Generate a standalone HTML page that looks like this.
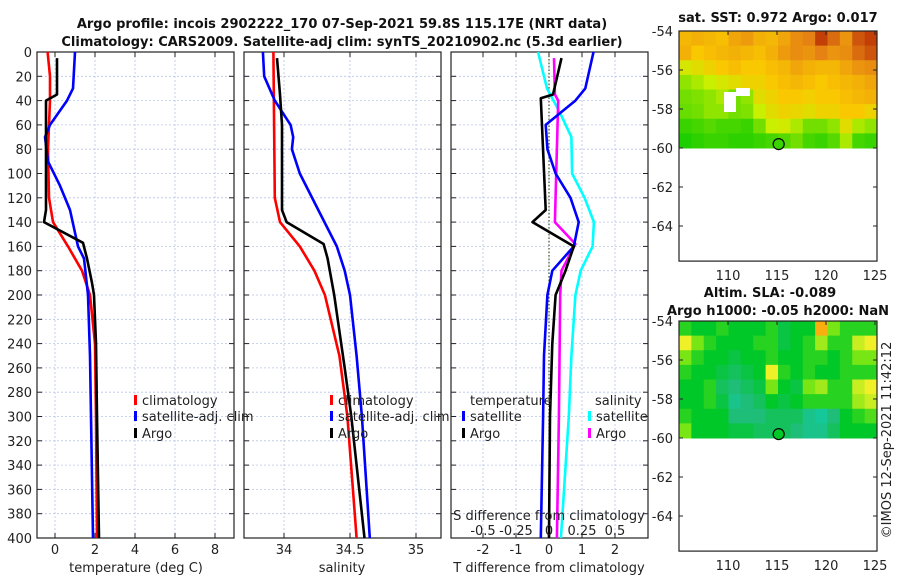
<!DOCTYPE html>
<html><head><meta charset="utf-8"><style>
body{margin:0;background:#fff;width:900px;height:580px;overflow:hidden}
svg{font-family:"DejaVu Sans","Liberation Sans",sans-serif}
.t{font-size:13px;fill:#222}
.b{font-weight:bold;font-size:13px;fill:#111}
</style></head><body>
<svg id="s" width="900" height="580" xmlns="http://www.w3.org/2000/svg"></svg>
<script>
// ---- data ----
const depthTicks=[0,20,40,60,80,100,120,140,160,180,200,220,240,260,280,300,320,340,360,380,400];
const tempTicks=[0,2,4,6,8];
const salTicks=[34,34.5,35];
const tdiffTicks=[-2,-1,0,1,2];
const sdiffTickLabels=["-0.5","-0.25","0","0.25","0.5"];
const argoTDepth=[5,35,40,130,140,157,170,190,200,240,300,400];
const argoT=[0.1,0.1,-0.45,-0.45,-0.55,1.4,1.6,1.85,1.95,2.05,2.1,2.2];
const climTDepth=[0,20,40,80,120,140,160,180,200,240,300,400];
const climT=[-0.37,-0.25,-0.25,-0.35,-0.3,-0.1,0.65,1.35,1.75,2.0,2.05,2.1];
const satTDepth=[0,30,40,60,70,90,110,130,160,170,200,250,300,400];
const satT=[1.0,0.9,0.6,-0.25,-0.5,-0.35,0.25,0.75,1.15,1.45,1.65,1.75,1.8,1.9];
const argoSDepth=[5,35,60,130,140,158,170,200,260,300,400];
const argoS=[33.947,33.97,33.985,33.985,34.02,34.3,34.33,34.38,34.46,34.51,34.61];
const climSDepth=[0,120,140,160,180,200,250,300,400];
const climS=[33.92,33.93,33.97,34.12,34.23,34.31,34.42,34.48,34.55];
const satSDepth=[0,20,40,60,70,80,100,130,160,180,200,250,300,400];
const satS=[33.84,33.85,33.93,34.05,34.07,34.06,34.12,34.26,34.4,34.46,34.5,34.55,34.59,34.65];
const dTArgoDepth=[5,35,38,130,140,160,180,200,240,300,400];
const dTArgo=[0.38,0.12,-0.25,-0.1,-0.5,0.75,0.5,0.2,0.1,0.03,0.0];
const dTSatDepth=[0,30,40,50,60,80,100,120,140,160,180,200,250,300,400];
const dTSat=[1.35,1.1,0.8,0.35,-0.1,-0.05,0.2,0.65,0.9,0.75,0.1,-0.05,-0.15,-0.18,-0.25];
const dSSatDepth=[0,30,50,70,100,120,140,160,180,200,250,300,400];
const dSSat=[-0.083,-0.015,0.083,0.17,0.175,0.27,0.34,0.33,0.24,0.2,0.17,0.15,0.09];
const dSArgoDepth=[5,35,40,140,158,180,200,300,400];
const dSArgo=[0.038,0.045,0.07,0.045,0.2,0.095,0.085,0.075,0.06];
const latTicks=[-54,-56,-58,-60,-62,-64];
const lonTicks=[110,115,120,125];
const sstGrid=[
[.6,.62,.6,.58,.65,.68,.62,.6,.65,.72,.75,.9,.8,.7,.85,.9],
[.62,.55,.58,.6,.62,.6,.58,.62,.68,.72,.7,.75,.7,.72,.8,.85],
[.4,.45,.5,.55,.58,.55,.55,.58,.6,.65,.62,.6,.6,.65,.7,.72],
[.25,.3,.35,.4,.45,.5,.5,.55,.58,.6,.58,.55,.58,.6,.62,.65],
[.2,.22,.25,.3,.2,.25,.45,.5,.55,.55,.52,.55,.55,.58,.6,.62],
[.18,.2,.25,.25,.2,.22,.35,.45,.5,.48,.45,.5,.5,.55,.55,.5],
[.1,.12,.15,.12,.12,.1,.2,.35,.38,.3,.2,.2,.25,.45,.3,.25],
[.05,.08,.1,.1,.08,.08,.1,.12,.15,.2,.12,.1,.15,.3,.12,.1]];
const slaGrid=[
[.5,.45,.45,.5,.45,.45,.45,.5,.4,.45,.45,.9,.6,.5,.5,.5],
[.75,.6,.5,.45,.45,.45,.5,.5,.4,.45,.5,.65,.5,.5,.7,.75],
[.6,.5,.45,.45,.4,.45,.45,.5,.45,.45,.5,.5,.45,.5,.6,.6],
[.5,.45,.45,.4,.35,.4,.45,.75,.5,.45,.5,.45,.45,.5,.5,.5],
[.45,.45,.5,.35,.3,.35,.4,.6,.45,.4,.6,.65,.5,.5,.7,.75],
[.45,.45,.5,.4,.25,.3,.35,.45,.4,.45,.5,.5,.5,.5,.65,.7],
[.5,.45,.45,.45,.3,.3,.3,.35,.35,.35,.25,.2,.3,.45,.5,.55],
[.6,.45,.45,.45,.4,.4,.35,.35,.35,.3,.25,.25,.35,.45,.45,.45]];

const S=document.getElementById('s');const NS='http://www.w3.org/2000/svg';
function el(tag,a,txt){const e=document.createElementNS(NS,tag);for(const k in a)e.setAttribute(k,a[k]);if(txt!==undefined)e.textContent=txt;S.appendChild(e);return e;}
const Y0=52,Y1=538;const yD=d=>Y0+(d/400)*(Y1-Y0);
const P=[{x0:37,x1:234,f:v=>55+v*20},{x0:244,x1:441,f:v=>284+(v-34)*132},{x0:451,x1:648,f:v=>549+v*33}];
const fS=v=>549+v*132;
P.forEach((p,i)=>{
 const r=el('rect',{x:p.x0,y:Y0,width:p.x1-p.x0,height:Y1-Y0,fill:'none',stroke:'#222','stroke-width':1.2});
 
 depthTicks.forEach(d=>{if(d>0&&d<400){const l=el('line',{x1:p.x0,x2:p.x1,y1:yD(d),y2:yD(d),stroke:'#b8c4e8','stroke-dasharray':'2,2','stroke-width':0.8});
  }
  el('line',{x1:p.x0,x2:p.x0+5,y1:yD(d),y2:yD(d),stroke:'#222'});el('line',{x1:p.x1-5,x2:p.x1,y1:yD(d),y2:yD(d),stroke:'#222'});});
});
depthTicks.forEach(d=>{const t=el('text',{x:32,y:yD(d)+5,'text-anchor':'end',class:'t'},d);
 });
function vt(p,ticks,labelsY,labels){ticks.forEach((v,i)=>{const x=p.f(v);
 const l=el('line',{x1:x,x2:x,y1:Y0,y2:Y1,stroke:'#b8c4e8','stroke-dasharray':'2,2','stroke-width':0.8});
 
 el('line',{x1:x,x2:x,y1:Y1-5,y2:Y1,stroke:'#222'});el('line',{x1:x,x2:x,y1:Y0,y2:Y0+5,stroke:'#222'});
 const t=el('text',{x:x,y:labelsY,'text-anchor':'middle',class:'t'},labels?labels[i]:v);
 });}
vt(P[0],tempTicks,554);vt(P[1],salTicks,554);vt(P[2],tdiffTicks,554);
const z=el('line',{x1:549,x2:549,y1:Y0,y2:Y1,stroke:'#445522','stroke-dasharray':'1.5,2','stroke-width':1.2});

function line(dep,val,f,col,name){const pts=dep.map((d,i)=>f(val[i]).toFixed(1)+','+yD(d).toFixed(1)).join(' ');
 const e=el('polyline',{points:pts,fill:'none',stroke:col,'stroke-width':2.6,'stroke-linejoin':'round'});
 }
line(climTDepth,climT,P[0].f,'#ff0000','temp-climatology-line');
line(satTDepth,satT,P[0].f,'#0000ff','temp-satellite-line');
line(argoTDepth,argoT,P[0].f,'#000','temp-argo-line');
line(climSDepth,climS,P[1].f,'#ff0000','sal-climatology-line');
line(satSDepth,satS,P[1].f,'#0000ff','sal-satellite-line');
line(argoSDepth,argoS,P[1].f,'#000','sal-argo-line');
line(dSSatDepth,dSSat,fS,'#00ffff','sdiff-satellite-line');
line(dSArgoDepth,dSArgo,fS,'#ff00ff','sdiff-argo-line');
line(dTSatDepth,dTSat,P[2].f,'#0000ff','tdiff-satellite-line');
line(dTArgoDepth,dTArgo,P[2].f,'#000','tdiff-argo-line');
function leg(x,y,col,txt,name){el('rect',{x:x,y:y-10,width:3,height:10,fill:col});
 const t=el('text',{x:x+8,y:y,class:'t'},txt);}
leg(134,405,'#ff0000','climatology','legend-climatology');leg(134,421,'#0000ff','satellite-adj. clim','legend-satellite');leg(134,438,'#000','Argo','legend-argo');
leg(330,405,'#ff0000','climatology','legend-climatology-2');leg(330,421,'#0000ff','satellite-adj. clim','legend-satellite-2');leg(330,438,'#000','Argo','legend-argo-2');
el('text',{x:470,y:405,class:'t'},'temperature');el('text',{x:595,y:405,class:'t'},'salinity');
leg(462,421,'#0000ff','satellite','legend-t-satellite');leg(462,438,'#000','Argo','legend-t-argo');
leg(588,421,'#00ffff','satellite','legend-s-satellite');leg(588,438,'#ff00ff','Argo','legend-s-argo');
el('text',{x:549,y:520,'text-anchor':'middle',class:'t'},'S difference from climatology');
tdiffTicks.forEach((v,i)=>{const t=el('text',{x:P[2].f(v),y:535,'text-anchor':'middle',class:'t'},sdiffTickLabels[i]);
 });
[['temperature (deg C)',136],['salinity',342],['T difference from climatology',549]].forEach(a=>{
 const t=el('text',{x:a[1],y:572,'text-anchor':'middle',class:'t'},a[0]);});
el('text',{x:342,y:28,'text-anchor':'middle',class:'b'},'Argo profile: incois 2902222_170 07-Sep-2021 59.8S 115.17E (NRT data)');
el('text',{x:342,y:46,'text-anchor':'middle',class:'b'},'Climatology: CARS2009. Satellite-adj clim: synTS_20210902.nc (5.3d earlier)');
function sstCol(v){const stops=[[0,[0,200,0]],[.35,[200,240,0]],[.55,[250,200,0]],[.75,[230,130,20]],[1,[170,20,0]]];return interp(stops,v);}
function slaCol(v){const stops=[[0,[0,220,220]],[.3,[30,190,120]],[.45,[0,200,40]],[.6,[120,230,20]],[.75,[240,240,40]],[1,[255,130,0]]];return interp(stops,v);}
function interp(st,v){for(let i=1;i<st.length;i++){if(v<=st[i][0]){const a=st[i-1],b=st[i],t=(v-a[0])/(b[0]-a[0]);return 'rgb('+a[1].map((c,k)=>Math.round(c+(b[1][k]-c)*t)).join(',')+')';}}return 'rgb('+st[st.length-1][1].join(',')+')';}
function map(top,grid,colf,name){const X0=679,X1=877,lat=v=>top+(-54-v)*19.5,lon=v=>728+(v-110)*9.8;
 const rows=grid.length,cols=grid[0].length,h=(lat(-60)-top)/rows,w=(X1-X0)/cols;
 grid.forEach((r,i)=>r.forEach((v,j)=>{const c=el('rect',{x:X0+j*w,y:top+i*h,width:w+0.5,height:h+0.5,fill:colf(v)});
  }));
 const f=el('rect',{x:X0,y:top,width:X1-X0,height:lat(-65.8)-top,fill:'none',stroke:'#222','stroke-width':1.2});
 
 latTicks.forEach(v=>{el('line',{x1:X0,x2:X0+4,y1:lat(v),y2:lat(v),stroke:'#222'});el('line',{x1:X1-4,x2:X1,y1:lat(v),y2:lat(v),stroke:'#222'});
  const t=el('text',{x:673,y:lat(v)+5,'text-anchor':'end',class:'t'},v);});
 lonTicks.forEach(v=>{el('line',{x1:lon(v),x2:lon(v),y1:top,y2:top+4,stroke:'#222'});
  const t=el('text',{x:lon(v),y:lat(-65.8)+19,'text-anchor':'middle',class:'t'},v);});
 const m=el('circle',{cx:lon(115.17),cy:lat(-59.8),r:5.5,fill:colf(grid===sstGrid?0.1:0.45),stroke:'#000','stroke-width':1.2});
 }
map(31,sstGrid,sstCol,'sst-map');
el('rect',{x:724,y:92,width:12,height:20,fill:'#fff'});el('rect',{x:736,y:88,width:14,height:8,fill:'#fff'});
map(321,slaGrid,slaCol,'sla-map');
el('text',{x:778,y:22,'text-anchor':'middle',class:'b'},'sat. SST: 0.972 Argo: 0.017');
el('text',{x:770,y:297,'text-anchor':'middle',class:'b'},'Altim. SLA: -0.089');
el('text',{x:778,y:315,'text-anchor':'middle',class:'b'},'Argo h1000: -0.05 h2000: NaN');
el('text',{x:0,y:0,transform:'translate(891,440) rotate(-90)','text-anchor':'middle',class:'t'},'©IMOS 12-Sep-2021 11:42:12');
</script></body></html>
